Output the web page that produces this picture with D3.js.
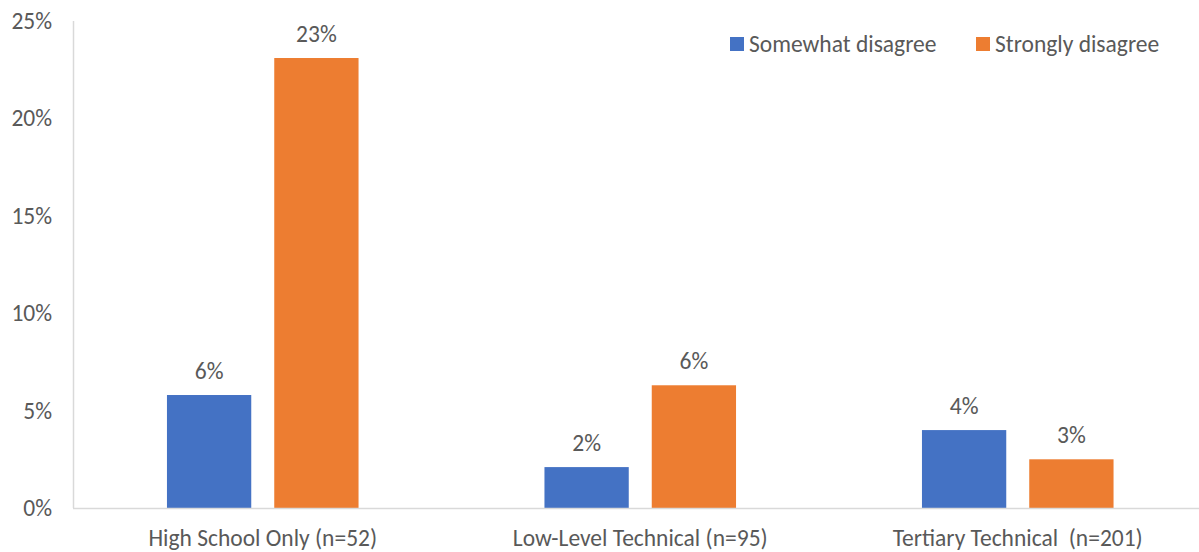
<!DOCTYPE html>
<html>
<head>
<meta charset="utf-8">
<script src="https://cdn.jsdelivr.net/npm/d3@7"></script>
<style>
  html, body { margin: 0; padding: 0; background: #fff; }
  svg { display: block; }
  text { font-family: Calibri, Carlito, Lato, sans-serif; fill: #595959; white-space: pre; }
</style>
</head>
<body>
<svg id="chart" width="1199" height="552"></svg>
<script>
// Education groups and the share answering each level of disagreement
const categories = ["High School Only (n=52)", "Low-Level Technical (n=95)", "Tertiary Technical  (n=201)"];
const seriesNames = ["Somewhat disagree", "Strongly disagree"];
const somewhatDisagree = [0.058, 0.021, 0.040];
const stronglyDisagree = [0.231, 0.063, 0.025];
const valueLabels = [["6%", "2%", "4%"], ["23%", "6%", "3%"]];
const yTicks = [0, 0.05, 0.10, 0.15, 0.20, 0.25];
const colors = ["#4472C4", "#ED7D31"];

const series = [somewhatDisagree, stronglyDisagree];
const fontSize = "23.5px";

const svg = d3.select("#chart");
const plotLeft = 74, plotRight = 1206.5, plotTop = 21, plotBottom = 508;

const x0 = d3.scaleBand().domain(categories).range([plotLeft, plotRight]).paddingInner(0.4925).paddingOuter(0.24625);
const x1 = d3.scaleBand().domain(seriesNames).range([0, x0.bandwidth()]).paddingInner(0.2144);
const y = d3.scaleLinear().domain([0, 0.25]).range([plotBottom, plotTop]);

// Y axis labels (no tick marks)
const yAxis = d3.axisLeft(y).tickValues(yTicks).tickFormat(d3.format(".0%")).tickSize(0).tickPadding(22);
const gy = svg.append("g").attr("transform", `translate(${plotLeft},0)`).call(yAxis);
gy.select(".domain").remove();
gy.selectAll("text").style("font-size", fontSize).attr("fill", "#595959");

// Left axis line
svg.append("line").attr("x1", plotLeft - 0.5).attr("x2", plotLeft - 0.5).attr("y1", plotTop).attr("y2", plotBottom)
  .attr("stroke", "#d9d9d9").attr("stroke-width", 1.5);

// Bars with value labels
const groups = svg.append("g").selectAll("g").data(categories).join("g")
  .attr("transform", d => `translate(${x0(d)},0)`);

seriesNames.forEach((name, si) => {
  groups.append("rect")
    .attr("x", x1(name))
    .attr("width", x1.bandwidth())
    .attr("y", (d, i) => y(series[si][i]))
    .attr("height", (d, i) => y(0) - y(series[si][i]))
    .attr("fill", colors[si]);
  groups.append("text")
    .attr("x", x1(name) + x1.bandwidth() / 2)
    .attr("y", (d, i) => y(series[si][i]) - 16)
    .attr("text-anchor", "middle")
    .style("font-size", fontSize)
    .text((d, i) => valueLabels[si][i]);
});

// Baseline
svg.append("line").attr("x1", plotLeft - 1).attr("x2", 1199).attr("y1", plotBottom + 0.5).attr("y2", plotBottom + 0.5)
  .attr("stroke", "#d9d9d9").attr("stroke-width", 1.5);

// Category labels
const xAxis = d3.axisBottom(x0).tickSize(0).tickPadding(21);
const gx = svg.append("g").attr("transform", `translate(0,${plotBottom})`).call(xAxis);
gx.select(".domain").remove();
gx.selectAll("text").style("font-size", fontSize).attr("fill", "#595959");

// Legend
const legendX = [730, 976];
const legend = svg.append("g");
seriesNames.forEach((name, i) => {
  legend.append("rect").attr("x", legendX[i]).attr("y", 37).attr("width", 14).attr("height", 14).attr("fill", colors[i]);
  legend.append("text").attr("x", legendX[i] + 19).attr("y", 44).attr("dy", "0.35em")
    .style("font-size", fontSize).text(name);
});
</script>
</body>
</html>
